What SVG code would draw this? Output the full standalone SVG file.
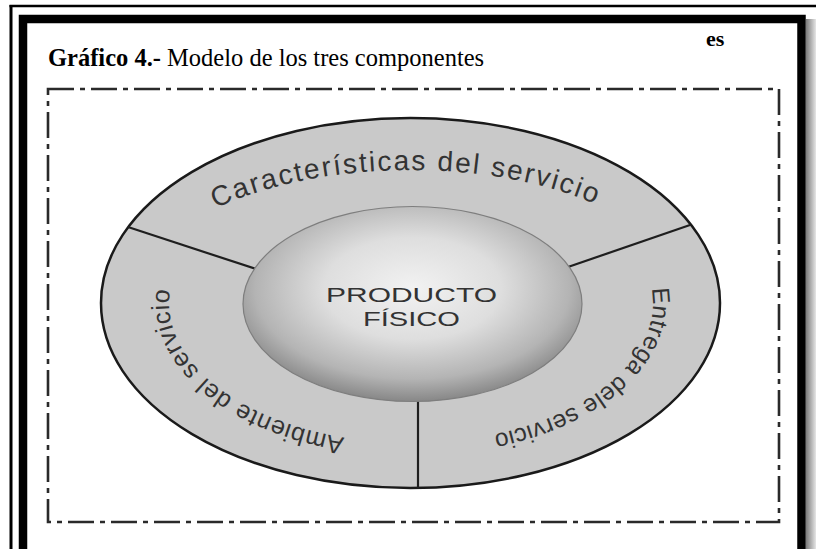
<svg xmlns="http://www.w3.org/2000/svg" width="816" height="549" viewBox="0 0 816 549">
  <style>
    .title { font-family: "Liberation Serif", "Times New Roman", serif; fill: #000; }
    .ring { font-family: "Liberation Sans", Arial, sans-serif; fill: #333; }
    .divider { stroke: #1e1e1e; stroke-width: 2.2; fill: none; }
  </style>
  <defs>
    <radialGradient id="sphere" cx="0.5" cy="0.42" r="0.58">
      <stop offset="0" stop-color="#f2f2f2"/>
      <stop offset="0.45" stop-color="#dedede"/>
      <stop offset="0.8" stop-color="#b4b4b4"/>
      <stop offset="1" stop-color="#878787"/>
    </radialGradient>
    <linearGradient id="shadow" x1="0" y1="0" x2="1" y2="0">
      <stop offset="0" stop-color="#7a7a7a"/>
      <stop offset="1" stop-color="#e6e6e6"/>
    </linearGradient>
    <path id="pTop" d="M 133.5,303 A 277 133 0 0 1 687.5,303"/>
    <path id="pLeft" d="M 411,443 A 242 140 0 0 1 411,163"/>
    <path id="pRight" d="M 411,163 A 242 140 0 0 1 411,443"/>
  </defs>

  <rect x="0" y="0" width="816" height="549" fill="#ffffff"/>

  <g id="frame">
    <line x1="9.5" y1="6" x2="816" y2="6" stroke="#000" stroke-width="2.5"/>
    <line x1="11" y1="5" x2="11" y2="549" stroke="#000" stroke-width="3"/>
    <rect x="806" y="19" width="10" height="530" fill="url(#shadow)"/>
    <path d="M 23,549 L 23,19 L 801.5,19 L 801.5,549" fill="none" stroke="#000" stroke-width="8.5"/>
  </g>

  <g id="title">
    <text class="title" x="48" y="66" font-size="24.5"><tspan font-weight="bold">Gráfico 4.-</tspan> Modelo de los tres componentes</text>
    <text class="title" x="706" y="46" font-size="22" font-weight="bold" fill="#333">es</text>
  </g>

  <g id="boundary">
    <rect x="48" y="89" width="731" height="433" fill="none" stroke="#2a2a2a" stroke-width="2.6" stroke-dasharray="26 6 5 6"/>
  </g>

  <g id="ring">
    <ellipse cx="410.5" cy="303" rx="309.5" ry="185" fill="#c9c9c9" stroke="#1a1a1a" stroke-width="2.5"/>
  </g>

  <g id="connectors">
    <line class="divider" x1="128" y1="227" x2="256" y2="269"/>
    <line class="divider" x1="690" y1="225" x2="568" y2="267"/>
    <line class="divider" x1="418" y1="400" x2="418" y2="488"/>
  </g>

  <g id="caracteristicas">
    <text class="ring" font-size="28" letter-spacing="2"><textPath href="#pTop" startOffset="49.3%" text-anchor="middle">Características del servicio</textPath></text>
  </g>

  <g id="ambiente">
    <text class="ring" font-size="25" letter-spacing="0.7"><textPath href="#pLeft" startOffset="31.6%" text-anchor="middle">Ambiente del servicio</textPath></text>
  </g>

  <g id="entrega">
    <text class="ring" font-size="24.5" letter-spacing="0.4"><textPath href="#pRight" startOffset="67%" text-anchor="middle">Entrega dele servicio</textPath></text>
  </g>

  <g id="producto">
    <ellipse cx="412.5" cy="304" rx="169.5" ry="97.5" fill="url(#sphere)" stroke="#7e7e7e" stroke-width="1.2"/>
    <text class="ring" x="326" y="302" font-size="19.5" textLength="171" lengthAdjust="spacingAndGlyphs" fill="#444">PRODUCTO</text>
    <text class="ring" x="363" y="326" font-size="19.5" textLength="97" lengthAdjust="spacingAndGlyphs" fill="#444">FÍSICO</text>
  </g>
</svg>
